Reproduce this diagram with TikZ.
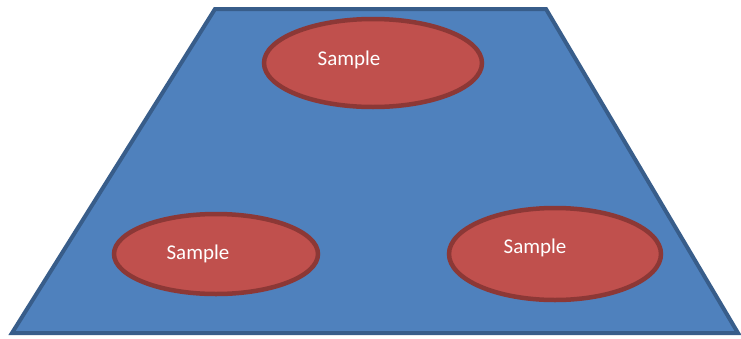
\documentclass[tikz,border=0pt]{standalone}
\usepackage{fontspec}
\setmainfont{Carlito}
\definecolor{planefill}{HTML}{4F81BD}
\definecolor{planeedge}{HTML}{385D8A}
\definecolor{spotfill}{HTML}{C0504D}
\definecolor{spotedge}{HTML}{8C3836}
\tikzset{
  plane/.style={fill=planefill, draw=planeedge, line width=4pt, line join=miter},
  spot/.style={fill=spotfill, draw=spotedge, line width=4.5pt},
  spotlabel/.style={text=white, font=\fontsize{21}{25}\selectfont, inner sep=0pt}
}
\begin{document}
\begin{tikzpicture}[x=1pt, y=-1pt]
  \useasboundingbox (0,0) rectangle (741,338);
  % ground plane in perspective
  \draw[plane] (215,9) -- (546,9) -- (738,333) -- (12,333) -- cycle;
  % sample spots
  \draw[spot] (373,63) ellipse [x radius=109, y radius=44];
  \draw[spot] (216,254) ellipse [x radius=102, y radius=40];
  \draw[spot] (555,254) ellipse [x radius=106, y radius=46];
  % labels
  \node[spotlabel] (s1) at (349,60) {Sample};
  \node[spotlabel] (s2) at (198,254) {Sample};
  \node[spotlabel] (s3) at (535,248) {Sample};
\end{tikzpicture}
\end{document}
